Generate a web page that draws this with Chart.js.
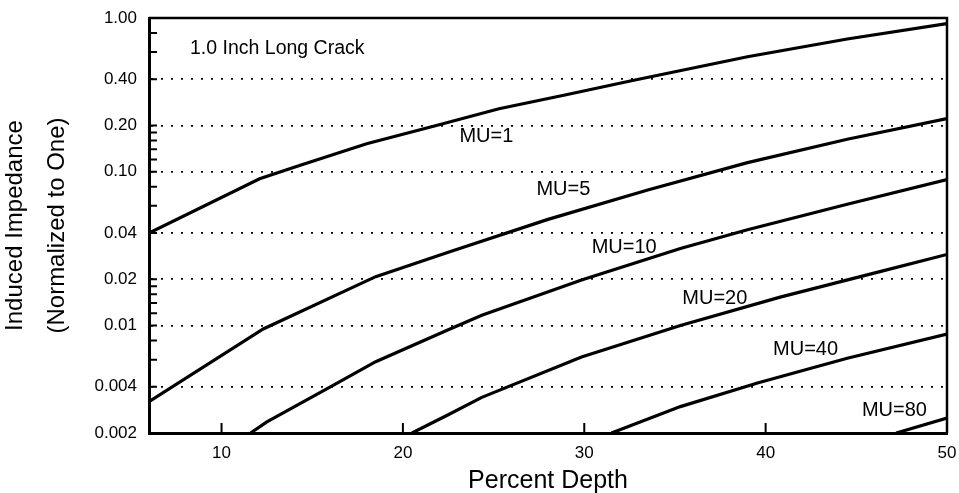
<!DOCTYPE html>
<html>
<head>
<meta charset="utf-8">
<script src="https://cdn.jsdelivr.net/npm/chart.js@4.4.0/dist/chart.umd.min.js"></script>
<style>
  html, body { margin: 0; padding: 0; background: #fff; }
</style>
</head>
<body>
<canvas id="crack" width="959" height="493"></canvas>
<script>
// percent depth / induced impedance
const mu1X = [6, 12.1, 14.3, 18, 22, 25.3, 29, 32.6, 39, 44.5, 50];
const mu1Y = [0.040, 0.090, 0.110, 0.152, 0.202, 0.257, 0.317, 0.391, 0.56, 0.73, 0.92];

const mu5X = [6, 12.3, 18.5, 22.5, 28, 33.5, 39, 44.5, 50];
const mu5Y = [0.0032, 0.0095, 0.0208, 0.030, 0.049, 0.076, 0.1146, 0.1626, 0.222];

const mu10X = [11.6, 12.5, 16.1, 18.5, 22.5, 24.35, 29.85, 35.3, 39, 44.5, 50];
const mu10Y = [0.002, 0.00236, 0.00405, 0.00582, 0.00938, 0.01165, 0.01978, 0.0317, 0.042, 0.0615, 0.089];

const mu20X = [20.5, 22.5, 24.35, 29.85, 35.3, 40.8, 46.3, 50];
const mu20Y = [0.002, 0.00263, 0.00341, 0.00625, 0.0100, 0.0153, 0.0224, 0.029];

const mu40X = [31.5, 35.3, 39.6, 44.5, 50];
const mu40Y = [0.002, 0.00297, 0.00424, 0.00613, 0.0088];

const mu80X = [47.2, 50];
const mu80Y = [0.002, 0.0025];

const xTicks = [10, 20, 30, 40, 50];
const majorVals = [1, 0.4, 0.2, 0.1, 0.04, 0.02, 0.01, 0.004, 0.002];
const majorLabels = ['1.00', '0.40', '0.20', '0.10', '0.04', '0.02', '0.01', '0.004', '0.002'];
const minorVals = [0.8, 0.6, 0.18, 0.16, 0.14, 0.12, 0.08, 0.06, 0.018, 0.016, 0.014, 0.012, 0.008, 0.006];
const gridVals = [0.4, 0.2, 0.1, 0.04, 0.02, 0.01, 0.004];

const noteTexts = ['MU=1', 'MU=5', 'MU=10', 'MU=20', 'MU=40', 'MU=80'];
const noteX = [24.6, 28.85, 32.2, 37.2, 42.2, 47.1];
const noteY = [0.17, 0.0767, 0.032, 0.0151, 0.0070, 0.0028];
const titleText = '1.0 Inch Long Crack';
const titleX = 8.26, titleY = 0.63;

const FONT = '"Liberation Sans", Arial, Helvetica, sans-serif';
const yTickVals = majorVals.concat(minorVals).sort((a, b) => a - b);

function pts(xs, ys) {
  return xs.map((x, i) => ({ x: x, y: ys[i] }));
}

function curve(xs, ys) {
  return {
    data: pts(xs, ys),
    borderColor: '#000',
    borderWidth: 3.2,
    pointRadius: 0,
    tension: 0,
    fill: false
  };
}

// box edges, inward tick marks and the text on the plot
const boxAndNotes = {
  id: 'boxAndNotes',
  afterDraw(chart) {
    const { ctx, chartArea: a } = chart;
    const x = chart.scales.x, y = chart.scales.y;
    ctx.save();
    ctx.strokeStyle = '#000';
    ctx.lineWidth = 2.5;
    ctx.beginPath();
    ctx.moveTo(a.left, a.top);
    ctx.lineTo(a.right, a.top);
    ctx.lineTo(a.right, a.bottom);
    ctx.stroke();

    ctx.lineWidth = 2;
    ctx.beginPath();
    yTickVals.forEach(v => {
      const py = y.getPixelForValue(v);
      ctx.moveTo(a.left, py);
      ctx.lineTo(a.left + 8, py);
    });
    xTicks.slice(0, -1).forEach(v => {
      const px = x.getPixelForValue(v);
      ctx.moveTo(px, a.bottom);
      ctx.lineTo(px, a.bottom - 10);
    });
    ctx.stroke();

    ctx.fillStyle = '#000';
    ctx.font = '20px ' + FONT;
    ctx.textAlign = 'center';
    ctx.textBaseline = 'middle';
    noteTexts.forEach((t, i) => {
      ctx.fillText(t, x.getPixelForValue(noteX[i]), y.getPixelForValue(noteY[i]));
    });
    ctx.font = '19.5px ' + FONT;
    ctx.textAlign = 'left';
    ctx.fillText(titleText, x.getPixelForValue(titleX), y.getPixelForValue(titleY));
    ctx.restore();
  }
};

new Chart(document.getElementById('crack'), {
  type: 'line',
  data: {
    datasets: [
      curve(mu1X, mu1Y),
      curve(mu5X, mu5Y),
      curve(mu10X, mu10Y),
      curve(mu20X, mu20Y),
      curve(mu40X, mu40Y),
      curve(mu80X, mu80Y)
    ]
  },
  options: {
    responsive: false,
    animation: false,
    layout: { padding: { top: 18, right: 12, bottom: 0, left: 0 } },
    plugins: {
      legend: { display: false },
      tooltip: { enabled: false }
    },
    scales: {
      x: {
        type: 'linear',
        min: 6,
        max: 50,
        afterBuildTicks: s => { s.ticks = xTicks.map(v => ({ value: v })); },
        afterFit: s => { s.height = 60; s.paddingRight = 0; s.paddingLeft = 0; },
        grid: { display: false, drawTicks: false },
        border: { display: true, color: '#000', width: 3 },
        ticks: {
          color: '#000',
          padding: 10,
          maxRotation: 0,
          autoSkip: false,
          font: { size: 17, family: FONT }
        },
        title: {
          display: true,
          text: 'Percent Depth',
          color: '#000',
          font: { size: 25, family: FONT },
          padding: { top: 0, bottom: -3 }
        }
      },
      y: {
        type: 'logarithmic',
        min: 0.002,
        max: 1,
        afterBuildTicks: s => { s.ticks = yTickVals.map(v => ({ value: v })); },
        afterFit: s => { s.width = 149; s.paddingTop = 0; s.paddingBottom = 0; },
        grid: {
          drawTicks: false,
          lineWidth: 1.8,
          color: c => (c.tick && gridVals.includes(c.tick.value)) ? '#000' : 'rgba(0,0,0,0)'
        },
        border: { display: true, color: '#000', width: 3, dash: [2, 8] },
        ticks: {
          color: '#000',
          padding: 12,
          autoSkip: false,
          font: { size: 17, family: FONT },
          callback: v => {
            const i = majorVals.indexOf(v);
            return i < 0 ? '' : majorLabels[i];
          }
        },
        title: {
          display: true,
          text: ['Induced Impedance', '(Normalized to One)'],
          color: '#000',
          font: { size: 24, family: FONT, lineHeight: 1.75 },
          padding: { top: -6, bottom: 0 }
        }
      }
    }
  },
  plugins: [boxAndNotes]
});
</script>
</body>
</html>
